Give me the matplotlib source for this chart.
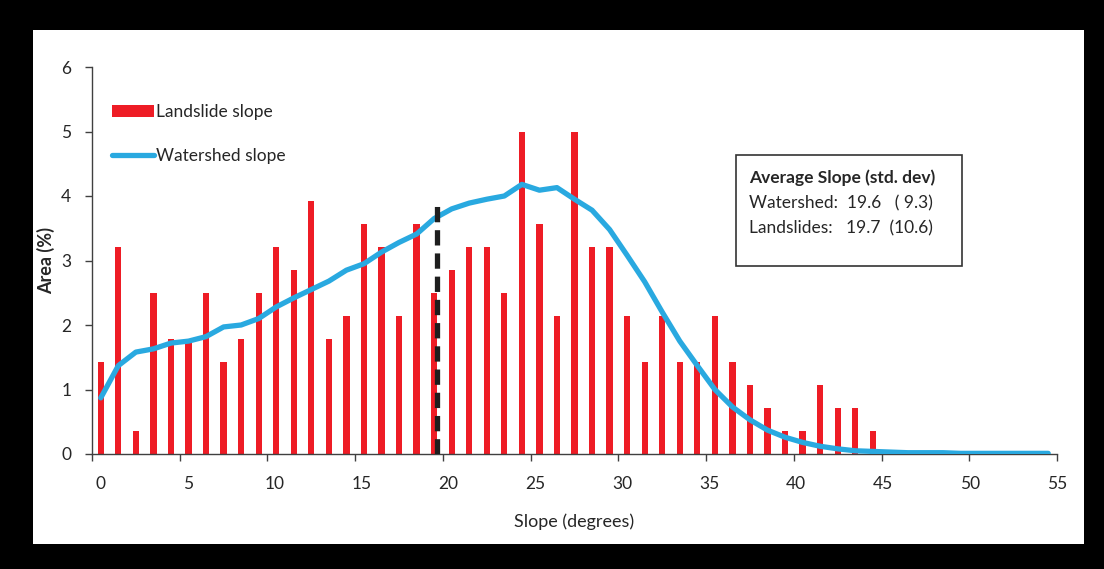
import matplotlib
matplotlib.use("Agg")
import matplotlib.pyplot as plt
from matplotlib.patches import Rectangle
import numpy as np

# ---- data ----
landslide_x = list(range(0, 45))
landslide_pct = [1.43, 3.21, 0.36, 2.50, 1.79, 1.79, 2.50, 1.43, 1.79, 2.50,
                 3.21, 2.86, 3.93, 1.79, 2.14, 3.57, 3.21, 2.14, 3.57, 2.50,
                 2.86, 3.21, 3.21, 2.50, 5.00, 3.57, 2.14, 5.00, 3.21, 3.21,
                 2.14, 1.43, 2.14, 1.43, 1.43, 2.14, 1.43, 1.07, 0.71, 0.36,
                 0.36, 1.07, 0.71, 0.71, 0.36]
watershed_x = list(range(0, 55))
watershed_pct = [0.87, 1.37, 1.58, 1.63, 1.72, 1.75, 1.82, 1.97, 2.00, 2.10,
                 2.28, 2.42, 2.55, 2.68, 2.85, 2.95, 3.13, 3.28, 3.41, 3.65,
                 3.80, 3.89, 3.95, 4.00, 4.18, 4.09, 4.13, 3.95, 3.78, 3.48,
                 3.08, 2.67, 2.20, 1.75, 1.37, 1.00, 0.73, 0.53, 0.37, 0.26,
                 0.18, 0.12, 0.08, 0.05, 0.04, 0.03, 0.02, 0.02, 0.02, 0.01,
                 0.01, 0.01, 0.01, 0.01, 0.01]
mean_slope_watershed = 19.6
dashed_top = 3.88
xtick_labels = ["0", "5", "10", "15", "20", "25", "30", "35", "40", "45", "50", "55"]
ytick_values = [0, 1, 2, 3, 4, 5, 6]
legend_labels = ["Landslide slope", "Watershed slope"]
box_lines = ["Average Slope (std. dev)", "Watershed:  19.6   ( 9.3)", "Landslides:   19.7  (10.6)"]

RED = "#EE1C25"
BLUE = "#29A9E0"
TXT = "#262626"

plt.rcParams['font.family'] = ['Lato', 'DejaVu Sans']

W, H = 1104, 569
fig = plt.figure(figsize=(W / 100, H / 100), dpi=100, facecolor="black")
# white panel
fig.add_artist(Rectangle((33 / W, 1 - 544 / H), (1084 - 33) / W, (544 - 30) / H,
                         transform=fig.transFigure, facecolor="white", edgecolor="none", zorder=0))

ax = fig.add_axes([92 / W, 1 - 454 / H, (1057 - 92) / W, (454 - 67) / H])
ax.set_facecolor("none")

bars = ax.bar(landslide_x, landslide_pct, width=0.36, color=RED, zorder=2)
line, = ax.plot(watershed_x, watershed_pct, color=BLUE, lw=3.8, solid_capstyle="round", zorder=3)
# mean marker (slope bins [k, k+1) are centred on category k)
ax.plot([mean_slope_watershed - 0.45] * 2, [0, dashed_top], color="#1e1e1e", lw=3.8,
        dashes=(2.9, 1.5), zorder=4)

ax.set_xlim(-0.5, 54.5)
ax.set_ylim(0, 6)
for s in ["top", "right"]:
    ax.spines[s].set_visible(False)
for s in ["left", "bottom"]:
    ax.spines[s].set_color("#404040")
    ax.spines[s].set_linewidth(1.0)

# tick marks between categories, labels spread along axis
ax.xaxis.remove_overlapping_locs = False
tick_pos = np.arange(0, 56, 5) - 0.5
ax.set_xticks(tick_pos)
ax.set_xticklabels([""] * len(tick_pos))
label_pos = np.arange(0, 56, 5) * (54.5 / 55)
ax.set_xticks(label_pos, minor=True)
ax.set_xticklabels(xtick_labels, minor=True)
ax.tick_params(axis="x", which="major", length=5, width=1.0, color="#404040", direction="out")
ax.tick_params(axis="x", which="minor", length=0, pad=16, labelsize=12.5, labelcolor=TXT)

ax.set_yticks(ytick_values)
ax.set_yticklabels([str(v) for v in ytick_values])
ax.tick_params(axis="y", length=5, width=1.0, color="#404040", pad=10, labelsize=12.5, labelcolor=TXT)

ax.set_xlabel("Slope (degrees)", fontsize=13, color=TXT, labelpad=15)
ax.set_ylabel("Area (%)", fontsize=13, color=TXT, fontweight="bold", labelpad=4)

leg = ax.legend([bars, line], legend_labels, loc="upper left", bbox_to_anchor=(0.008, 0.935),
                frameon=False, fontsize=12.5, handlelength=2.45, handletextpad=0.12,
                labelspacing=1.6, borderaxespad=0.3)
for t in leg.get_texts():
    t.set_color(TXT)

# stats box
fig.add_artist(Rectangle((736 / W, 1 - 266 / H), (962 - 736) / W, (266 - 155) / H,
                         transform=fig.transFigure, facecolor="white", edgecolor="#333333",
                         lw=1.2, zorder=5))
ys = [178, 203, 228]
for i, (txt, y) in enumerate(zip(box_lines, ys)):
    fig.text(749 / W, 1 - y / H, txt, ha="left", va="center", fontsize=12.5, color=TXT,
             fontweight="bold" if i == 0 else "normal", zorder=6)

fig.savefig("out.png", dpi=100, facecolor="black")
